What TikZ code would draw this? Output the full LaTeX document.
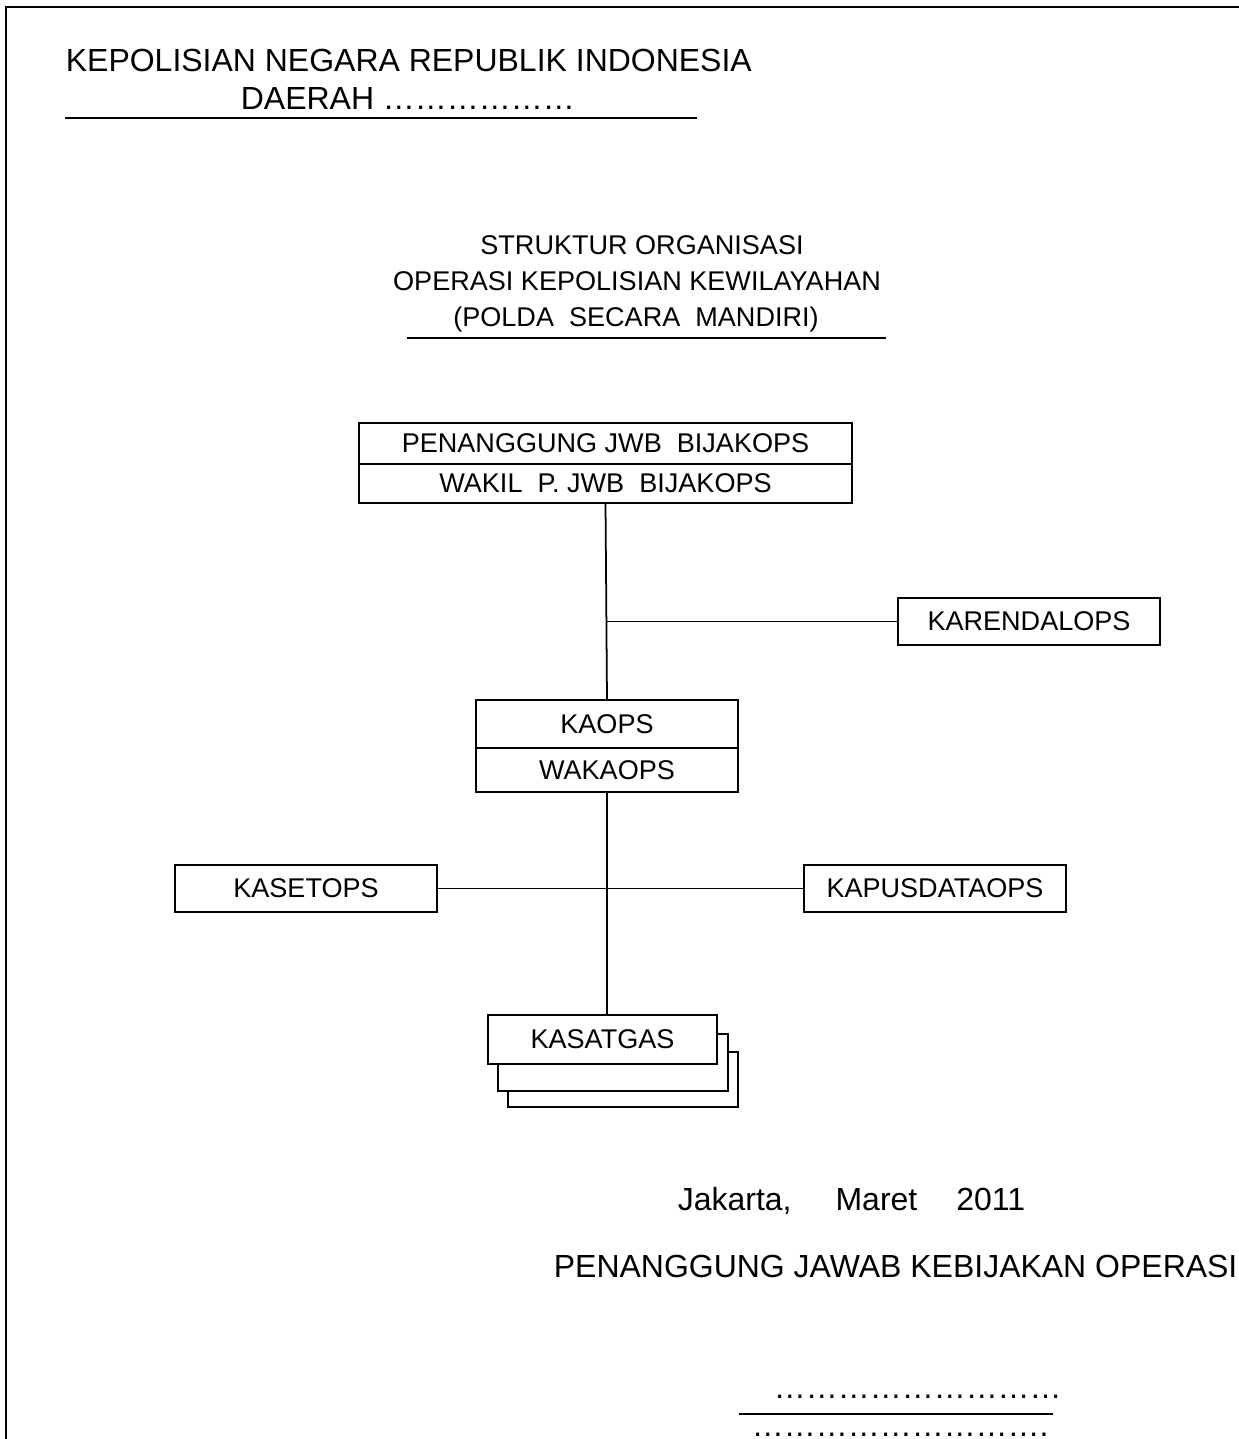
\documentclass[tikz,border=0pt]{standalone}
\usepackage{fontspec}
\setmainfont{Liberation Sans}
\usetikzlibrary{positioning}
\newcommand{\bigfont}{\fontsize{18.2pt}{22pt}\selectfont}
\newcommand{\boxfont}{\fontsize{15.4pt}{19pt}\selectfont}

\begin{document}
\begin{tikzpicture}[x=0.02cm, y=-0.02cm, line width=1pt,
      unit/.style={draw, fill=white, minimum width=5.24cm, minimum height=0.94cm,
                   inner sep=0pt, outer sep=0pt, font=\boxfont},
      head/.style={anchor=base west, inner sep=0pt, font=\bigfont},
      title/.style={anchor=base, inner sep=0pt, font=\boxfont}
  ]
    \useasboundingbox (0,0) rectangle (1239,1439);
    % frame
    \draw (6,1439) -- (6,7) -- (1239,7);

    % heading
    \node[head] (polri) at (65,72) {KEPOLISIAN NEGARA REPUBLIK INDONESIA};
    \node[head] (daerah) at (240,110) {DAERAH ………………};
    \draw (65,118) -- (697,118);

    \node[title] (title1) at (642,255) {STRUKTUR ORGANISASI};
    \node[title] (title2) at (637,291) {OPERASI KEPOLISIAN KEWILAYAHAN};
    \node[title] (title3) at (636,326) {(POLDA~ SECARA~ MANDIRI)};
    \draw (407,338) -- (886,338);

    % chart
    \node[unit, minimum width=9.86cm, minimum height=0.82cm] (pj) at (605.5,443.5)
      {PENANGGUNG JWB~ BIJAKOPS};
    \node[unit, minimum width=9.86cm, minimum height=0.78cm, below=0pt of pj] (wakil)
      {WAKIL~ P. JWB~ BIJAKOPS};
    \node[unit] (karendal) at (1029,621.5) {KARENDALOPS};
    \node[unit, minimum height=0.96cm] (kaops) at (607,724) {KAOPS};
    \node[unit, minimum height=0.88cm, below=0pt of kaops] (wakaops) {WAKAOPS};
    \node[unit] (kasetops) at (306,888.5) {KASETOPS};
    \node[unit] (kapusdata) at (935,888.5) {KAPUSDATAOPS};
    \node[unit, minimum width=4.6cm, minimum height=1.1cm] (layer3) at (623,1079.5) {};
    \node[unit, minimum width=4.6cm, minimum height=1.14cm] (layer2) at (613,1062.5) {};
    \node[unit, minimum width=4.58cm, minimum height=0.98cm] (kasatgas) at (602.5,1039.5) {KASATGAS};

    \draw (wakil.south) -- (kaops.north);
    \draw (karendal.west) -- (karendal.west -| kaops.north);
    \draw (wakaops.south) -- (wakaops.south |- kasatgas.north);
    \draw (kasetops) -- (kapusdata);

    % signature
    \node[head] (place) at (677,1210) {Jakarta,\hspace{0.88cm}Maret\hspace{0.78cm}2011};
    \node[head] (pjko) at (553,1277) {PENANGGUNG JAWAB KEBIJAKAN OPERASI};
    \node[head] (dots1) at (773,1398) {………………………};
    \draw (739,1414) -- (1053,1414);
    \node[head] (dots2) at (751,1436) {……………………….};
\end{tikzpicture}
\end{document}
